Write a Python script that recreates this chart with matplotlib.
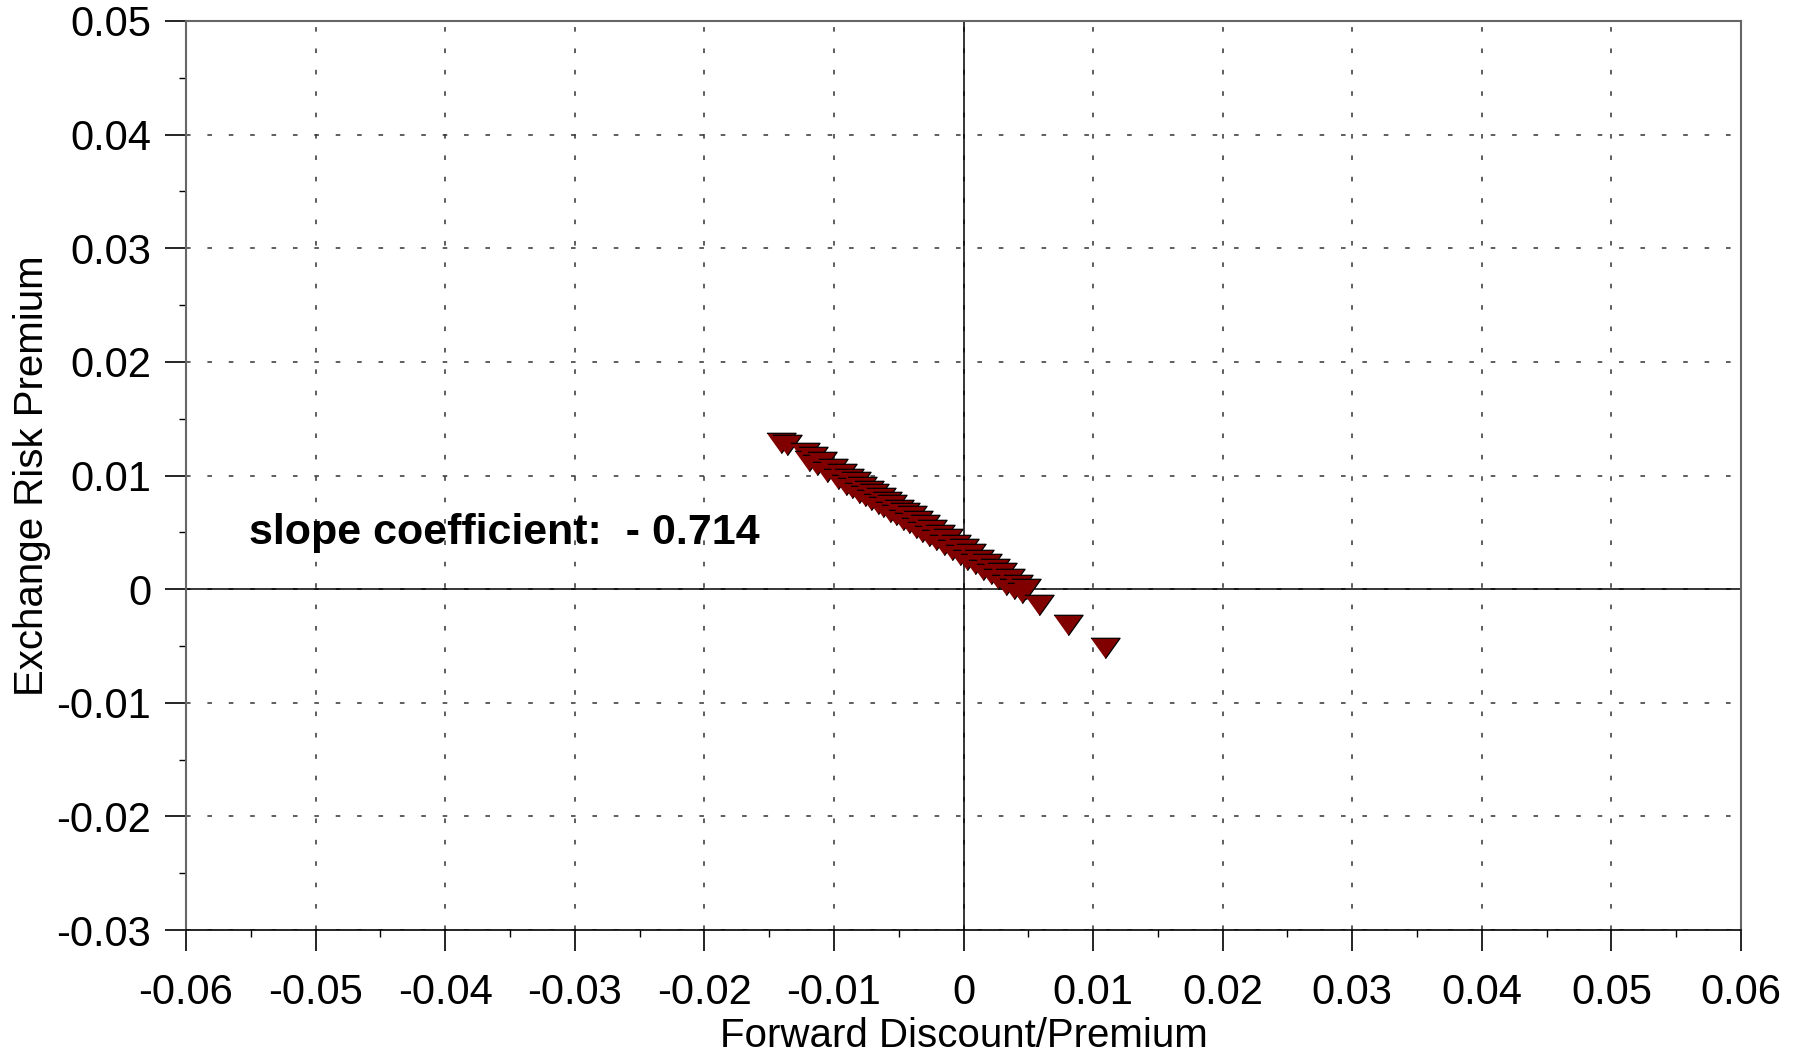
import numpy as np
import matplotlib.pyplot as plt
from matplotlib.ticker import MultipleLocator

plt.rcParams['font.family'] = ['Liberation Sans', 'DejaVu Sans']

# forward discount / premium (x) and exchange risk premium (y)
fwd = [-0.0141, -0.0136, -0.0122, -0.0119, -0.0116, -0.0113, -0.0109, -0.0105,
       -0.0101, -0.0097, -0.0094, -0.0091, -0.0088, -0.0086, -0.0083, -0.0081,
       -0.0078, -0.0076, -0.0073, -0.0071, -0.0069, -0.0066, -0.0064, -0.0062,
       -0.0059, -0.0057, -0.0055, -0.0052, -0.0050, -0.0047, -0.0045, -0.0042,
       -0.0040, -0.0037, -0.0035, -0.0032, -0.0030, -0.0027, -0.0024, -0.0021,
       -0.0018, -0.0015, -0.0012, -0.0009, -0.0006, -0.0003, 0.0000, 0.0003,
       0.0006, 0.0009, 0.0012, 0.0015, 0.0018, 0.0021, 0.0024, 0.0027,
       0.0030, 0.0033, 0.0036, 0.0039, 0.0042, 0.0045, 0.0048, 0.0058,
       0.0081, 0.0109]
risk = [0.0129, 0.0127, 0.0120, 0.0113, 0.0116, 0.0109, 0.0112, 0.0103,
        0.0106, 0.0097, 0.0101, 0.0092, 0.0097, 0.0089, 0.0094, 0.0085,
        0.0090, 0.0082, 0.0086, 0.0078, 0.0084, 0.0075, 0.0080, 0.0072,
        0.0077, 0.0068, 0.0074, 0.0065, 0.0070, 0.0061, 0.0067, 0.0058,
        0.0064, 0.0054, 0.0060, 0.0050, 0.0056, 0.0047, 0.0052, 0.0043,
        0.0048, 0.0039, 0.0044, 0.0034, 0.0039, 0.0030, 0.0035, 0.0026,
        0.0031, 0.0022, 0.0026, 0.0017, 0.0022, 0.0013, 0.0018, 0.0009,
        0.0014, 0.0004, 0.0009, 0.0000, 0.0004, -0.0003, 0.0000, -0.0014,
        -0.0032, -0.0052]

tri = [(-1, 0.7), (1, 0.7), (0, -0.7)]

fig = plt.figure(figsize=(17.97, 10.55), dpi=100)
ax = fig.add_axes([186/1797, 1 - 930/1055, (1741-186)/1797, (930-21)/1055])

ax.set_xlim(-0.06, 0.06)
ax.set_ylim(-0.03, 0.05)
ax.xaxis.set_major_locator(MultipleLocator(0.01))
ax.xaxis.set_minor_locator(MultipleLocator(0.005))
ax.yaxis.set_major_locator(MultipleLocator(0.01))
ax.yaxis.set_minor_locator(MultipleLocator(0.005))
ax.xaxis.set_major_formatter(plt.FuncFormatter(lambda v, p: '0' if abs(v) < 1e-9 else f'{v:.2f}'))
ax.yaxis.set_major_formatter(plt.FuncFormatter(lambda v, p: '0' if abs(v) < 1e-9 else f'{v:.2f}'))

ax.grid(True, which='major', linestyle=(0, (3, 11)), color='#333333', linewidth=1.1)
ax.axhline(0, color='black', linewidth=1.1, zorder=2)
ax.axvline(0, color='black', linewidth=1.1, zorder=2)

ax.scatter(fwd, risk, marker=tri, s=440, color='#800000', edgecolor='black',
           linewidth=0.9, zorder=3)

ax.text(-0.0551, 0.0049, 'slope coefficient:  - 0.714', fontsize=31,
        fontweight='bold', ha='left', va='center')

for s in ['left', 'top', 'right']:
    ax.spines[s].set_color('#666666')
    ax.spines[s].set_linewidth(1.5)
ax.spines['bottom'].set_color('black')
ax.spines['bottom'].set_linewidth(1.2)

ax.tick_params(which='major', direction='out', length=15, width=1.2, labelsize=30, pad=10)
ax.tick_params(axis='x', which='major', pad=16)
ax.tick_params(which='minor', direction='out', length=5, width=1)

ax.set_xlabel('Forward Discount/Premium', fontsize=29, labelpad=3)
ax.set_ylabel('Exchange Risk Premium', fontsize=29, labelpad=4)

fig.savefig('out.png', dpi=100)
